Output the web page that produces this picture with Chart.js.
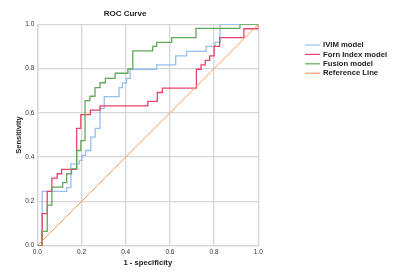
<!DOCTYPE html>
<html>
<head>
<meta charset="utf-8">
<script src="https://cdn.jsdelivr.net/npm/chart.js@4.4.0/dist/chart.umd.min.js"></script>
<style>
  html, body { margin: 0; padding: 0; background: #fff; }
  #wrap { width: 400px; height: 275px; }
</style>
</head>
<body>
<div id="wrap"><canvas id="roc"></canvas></div>
<script>
// ROC corner points (x = 1 - specificity, y = sensitivity)
const ivimX = [0, 0.022, 0.133, 0.152, 0.19, 0.202, 0.218, 0.242, 0.262, 0.284, 0.303, 0.37, 0.385, 0.404, 0.42, 0.54, 0.626, 0.676, 0.764, 0.804, 0.827, 1.0];
const ivimY = [0, 0.245, 0.262, 0.37, 0.385, 0.408, 0.43, 0.49, 0.53, 0.62, 0.673, 0.714, 0.735, 0.756, 0.797, 0.817, 0.857, 0.878, 0.9, 0.918, 1.0, 1.0];

const fornX = [0, 0.022, 0.045, 0.066, 0.09, 0.11, 0.178, 0.197, 0.24, 0.284, 0.5, 0.543, 0.566, 0.72, 0.741, 0.76, 0.78, 0.8, 0.825, 0.935, 1.0];
const fornY = [0, 0.145, 0.245, 0.305, 0.325, 0.345, 0.53, 0.592, 0.612, 0.632, 0.652, 0.692, 0.712, 0.797, 0.817, 0.837, 0.857, 0.9, 0.94, 0.98, 1.0];

const fusionX = [0, 0.02, 0.045, 0.066, 0.115, 0.133, 0.155, 0.178, 0.197, 0.216, 0.238, 0.261, 0.284, 0.308, 0.352, 0.41, 0.432, 0.522, 0.54, 0.608, 0.718, 0.917, 1.0];
const fusionY = [0, 0.065, 0.183, 0.265, 0.285, 0.325, 0.347, 0.43, 0.475, 0.655, 0.675, 0.714, 0.736, 0.756, 0.779, 0.799, 0.88, 0.9, 0.918, 0.94, 0.982, 1.0, 1.0];

const refX = [0, 1];
const refY = [0, 1];

const xTicks = [0, 0.2, 0.4, 0.6, 0.8, 1.0];
const yTicks = [0, 0.2, 0.4, 0.6, 0.8, 1.0];

const labels = ['IVIM model', 'Forn Index model', 'Fusion model', 'Reference Line'];
const colors = ['#94bff0', '#e8436a', '#62a85a', '#fa9a5e'];

function pts(xs, ys) {
  return xs.map((x, i) => ({ x: x, y: ys[i] }));
}

// title + legend drawn on the canvas, SPSS style
const sideText = {
  id: 'sideText',
  afterDraw(chart) {
    const ctx = chart.ctx;
    ctx.save();
    ctx.fillStyle = '#222';
    ctx.font = 'bold 8px "Liberation Sans", Arial, sans-serif';
    ctx.textAlign = 'center';
    ctx.textBaseline = 'middle';
    ctx.fillText('ROC Curve', 125, 14);

    ctx.textAlign = 'left';
    ctx.font = 'bold 7.7px "Liberation Sans", Arial, sans-serif';
    labels.forEach((lab, i) => {
      const y = 45 + i * 9.4;
      ctx.strokeStyle = colors[i];
      ctx.lineWidth = 1.2;
      ctx.beginPath();
      ctx.moveTo(305, y);
      ctx.lineTo(320, y);
      ctx.stroke();
      ctx.fillStyle = '#222';
      ctx.fillText(lab, 323, y);
    });
    ctx.restore();
  }
};

const gridColor = '#d6d6d6';
const tickFont = { family: '"Liberation Sans", Arial, sans-serif', size: 6.5 };
const titleFont = { family: '"Liberation Sans", Arial, sans-serif', size: 7.7, weight: 'bold' };

new Chart(document.getElementById('roc').getContext('2d'), {
  type: 'line',
  data: {
    datasets: [
      { label: labels[3], data: pts(refX, refY), borderColor: colors[3], borderWidth: 1, order: 0 },
      { label: labels[2], data: pts(fusionX, fusionY), borderColor: colors[2], borderWidth: 1.3, stepped: 'before', order: 1 },
      { label: labels[1], data: pts(fornX, fornY), borderColor: colors[1], borderWidth: 1.3, stepped: 'before', order: 2 },
      { label: labels[0], data: pts(ivimX, ivimY), borderColor: colors[0], borderWidth: 1.3, stepped: 'before', order: 3 }
    ]
  },
  options: {
    responsive: true,
    maintainAspectRatio: false,
    animation: false,
    layout: { padding: { top: 24.3, right: 141.7, left: 0, bottom: 0 } },
    elements: { point: { radius: 0 }, line: { tension: 0, fill: false } },
    plugins: { legend: { display: false }, tooltip: { enabled: false }, title: { display: false } },
    scales: {
      x: {
        type: 'linear', min: 0, max: 1,
        afterBuildTicks: s => { s.ticks = xTicks.map(v => ({ value: v })); },
        afterFit: s => { s.height = 29.3; },
        ticks: { callback: v => v.toFixed(1), font: tickFont, color: '#333', padding: 3, maxRotation: 0, autoSkip: false },
        grid: { color: gridColor, lineWidth: 1.3, drawTicks: false },
        border: { color: gridColor, width: 1.3 },
        title: { display: true, text: '1 - specificity', font: titleFont, color: '#222', padding: { top: 0, bottom: 7 } }
      },
      y: {
        type: 'linear', min: 0, max: 1,
        afterBuildTicks: s => { s.ticks = yTicks.map(v => ({ value: v })); },
        afterFit: s => { s.width = 37.3; },
        ticks: { callback: v => v.toFixed(1), font: tickFont, color: '#333', padding: 3, autoSkip: false },
        grid: { color: gridColor, lineWidth: 1.3, drawTicks: false },
        border: { color: gridColor, width: 1.3 },
        title: { display: true, text: 'Sensitivity', font: { ...titleFont, size: 7.5 }, color: '#222', padding: { top: 14, bottom: 0 } }
      }
    }
  },
  plugins: [sideText]
});
</script>
</body>
</html>
